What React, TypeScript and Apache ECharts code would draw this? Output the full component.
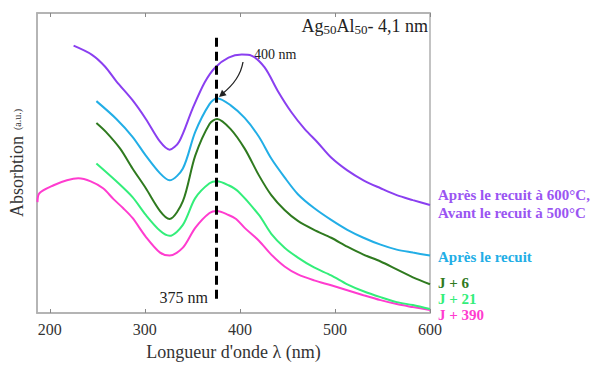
import React, { useEffect, useRef } from "react";
import * as echarts from "echarts";

// Wavelength (nm) and absorbance (a.u.) for each curve
const lambdaPurple = [225, 244, 258, 270, 287, 301, 316, 326, 336, 350, 363, 374, 388, 402, 412, 426, 440, 454, 468, 482, 496, 513, 530, 548, 565, 582, 600];
const absPurple = [2.70, 2.61, 2.49, 2.34, 2.15, 1.96, 1.73, 1.65, 1.73, 2.06, 2.33, 2.48, 2.58, 2.61, 2.60, 2.48, 2.24, 2.03, 1.86, 1.72, 1.57, 1.44, 1.34, 1.26, 1.19, 1.14, 1.09];

const lambdaCyan = [249, 270, 287, 301, 316, 326, 340, 353, 368, 376, 390, 405, 420, 433, 447, 461, 478, 496, 513, 530, 548, 565, 582, 600];
const absCyan = [2.14, 1.96, 1.78, 1.59, 1.41, 1.34, 1.46, 1.83, 2.11, 2.17, 2.10, 1.97, 1.78, 1.56, 1.37, 1.20, 1.06, 0.94, 0.84, 0.76, 0.69, 0.64, 0.61, 0.58];

const lambdaJ6 = [249, 259, 274, 287, 301, 316, 326, 340, 353, 368, 376, 390, 405, 420, 433, 447, 461, 478, 496, 513, 530, 548, 565, 582, 600];
const absJ6 = [1.92, 1.83, 1.66, 1.46, 1.26, 1.03, 0.95, 1.13, 1.59, 1.91, 1.96, 1.86, 1.66, 1.39, 1.19, 1.04, 0.93, 0.84, 0.76, 0.67, 0.59, 0.52, 0.44, 0.36, 0.29];

const lambdaJ21 = [249, 270, 287, 301, 316, 326, 340, 353, 368, 376, 388, 398, 420, 433, 447, 461, 478, 496, 513, 530, 548, 565, 582, 600];
const absJ21 = [1.51, 1.33, 1.17, 0.99, 0.83, 0.78, 0.89, 1.16, 1.31, 1.33, 1.29, 1.23, 0.99, 0.80, 0.66, 0.56, 0.46, 0.38, 0.29, 0.22, 0.16, 0.11, 0.08, 0.04];

const lambdaJ390 = [187, 189, 204, 218, 230, 243, 256, 267, 277, 287, 301, 316, 326, 340, 353, 368, 376, 388, 396, 405, 420, 433, 447, 461, 478, 496, 513, 530, 548, 565, 582, 600];
const absJ390 = [1.12, 1.21, 1.29, 1.34, 1.36, 1.33, 1.26, 1.15, 1.06, 0.96, 0.77, 0.61, 0.58, 0.66, 0.86, 1.01, 1.03, 0.99, 0.95, 0.86, 0.73, 0.59, 0.47, 0.39, 0.33, 0.28, 0.23, 0.18, 0.13, 0.09, 0.06, 0.03];

const xTicks = [200, 300, 400, 500, 600];
const markerLambda = 375;

const SERIF = "Liberation Serif";

const zip = (xs: number[], ys: number[]) => xs.map((x, i) => [x, ys[i]]);

export default function App() {
  const ref = useRef<HTMLDivElement>(null);

  useEffect(() => {
    if (!ref.current) return;
    const chart = echarts.init(ref.current, null, { renderer: "svg" });

    const line = (name: string, color: string, data: number[][], extra: any = {}) => ({
      name,
      type: "line",
      data,
      showSymbol: false,
      symbol: "none",
      smooth: 0.3,
      lineStyle: { color, width: 2 },
      itemStyle: { color },
      z: 3,
      ...extra,
    });

    const label = (text: string, y: number, color: string) => ({
      type: "text",
      x: 438,
      y,
      style: {
        text,
        font: `bold 15px ${SERIF}`,
        fontFamily: SERIF,
        fontWeight: "bold",
        fontSize: 15,
        fill: color,
        verticalAlign: "middle",
      },
    });

    const option: any = {
      animation: false,
      backgroundColor: "#ffffff",
      textStyle: { fontFamily: SERIF },
      grid: {
        left: 33,
        top: 13,
        right: 165,
        bottom: 50,
        show: true,
        borderColor: "#b0b0b0",
        borderWidth: 1.5,
      },
      xAxis: [
        {
          type: "value",
          min: 186.5,
          max: 600,
          position: "bottom",
          axisLine: { show: true, lineStyle: { color: "#b0b0b0", width: 1.5 } },
          axisTick: { show: true, inside: true, length: 4, customValues: xTicks, lineStyle: { color: "#888" } },
          axisLabel: { show: true, customValues: xTicks, color: "#333", fontFamily: SERIF, fontSize: 16, margin: 8 },
          splitLine: { show: false },
          name: "Longueur d'onde λ (nm)",
          nameLocation: "middle",
          nameGap: 30,
          nameTextStyle: { color: "#333", fontFamily: SERIF, fontSize: 18 },
        },
        {
          type: "value",
          min: 186.5,
          max: 600,
          position: "top",
          axisLine: { show: true, lineStyle: { color: "#b0b0b0", width: 1.5 } },
          axisTick: { show: true, inside: true, length: 4, customValues: xTicks, lineStyle: { color: "#888" } },
          axisLabel: { show: false },
          splitLine: { show: false },
        },
      ],
      yAxis: {
        type: "value",
        min: 0,
        max: 3.03,
        axisLine: { show: true, lineStyle: { color: "#b0b0b0", width: 1.5 } },
        axisTick: { show: false },
        axisLabel: { show: false },
        splitLine: { show: false },
        name: "{a|Absorbtion}  {b|(a.u.)}",
        nameLocation: "middle",
        nameRotate: 90,
        nameGap: 11,
        nameTextStyle: {
          rich: {
            a: { fontFamily: SERIF, fontSize: 18, color: "#333" },
            b: { fontFamily: SERIF, fontSize: 10, color: "#333" },
          },
        },
      },
      series: [
        line("J + 390", "#ff3ccf", zip(lambdaJ390, absJ390)),
        line("J + 21", "#33ee7a", zip(lambdaJ21, absJ21)),
        line("J + 6", "#2f7a1f", zip(lambdaJ6, absJ6)),
        line("Après le recuit", "#22aee6", zip(lambdaCyan, absCyan)),
        line("Après le recuit à 600°C", "#8a3ff0", zip(lambdaPurple, absPurple), {
          markLine: {
            silent: true,
            symbol: "none",
            label: { show: false },
            lineStyle: { color: "#000", type: [9, 5], width: 3 },
            data: [[{ coord: [markerLambda, 2.78] }, { coord: [markerLambda, 0.11] }]],
          },
        }),
      ],
      graphic: [
        {
          type: "text",
          right: 595 - 428,
          top: 17,
          style: {
            text: "Ag{s|50}Al{s|50}- 4,1 nm",
            fontFamily: SERIF,
            fontSize: 18,
            fill: "#222",
            rich: { s: { fontFamily: SERIF, fontSize: 13, fill: "#222", padding: [6, 0, 0, 0] } },
          },
        },
        {
          type: "text",
          x: 254,
          y: 54,
          style: { text: "400 nm", font: `14px ${SERIF}`, fontFamily: SERIF, fontSize: 14, fill: "#222", verticalAlign: "middle" },
        },
        {
          type: "bezierCurve",
          shape: { x1: 243, y1: 62, cpx1: 240, cpy1: 80, x2: 222, y2: 94 },
          style: { stroke: "#222", lineWidth: 1.3, fill: "none" },
        },
        {
          type: "polygon",
          shape: { points: [[219, 97], [226.6, 95.2], [222, 89.8]] },
          style: { fill: "#222" },
        },
        {
          type: "text",
          x: 208,
          y: 297,
          style: { text: "375 nm", font: `16px ${SERIF}`, fontFamily: SERIF, fontSize: 16, fill: "#222", align: "right", verticalAlign: "middle" },
        },
        label("Après le recuit à 600°C,", 195, "#9a55f2"),
        label("Avant le recuit à 500°C", 213, "#9a55f2"),
        label("Après le recuit", 257, "#22aee6"),
        label("J + 6", 283, "#2f7a1f"),
        label("J + 21", 299, "#33ee7a"),
        label("J + 390", 315, "#ff3ccf"),
      ],
    };

    chart.setOption(option);
    return () => chart.dispose();
  }, []);

  return (
    <div
      ref={ref}
      style={{ position: "fixed", left: 0, top: 0, width: 595, height: 366, background: "#fff" }}
    />
  );
}
